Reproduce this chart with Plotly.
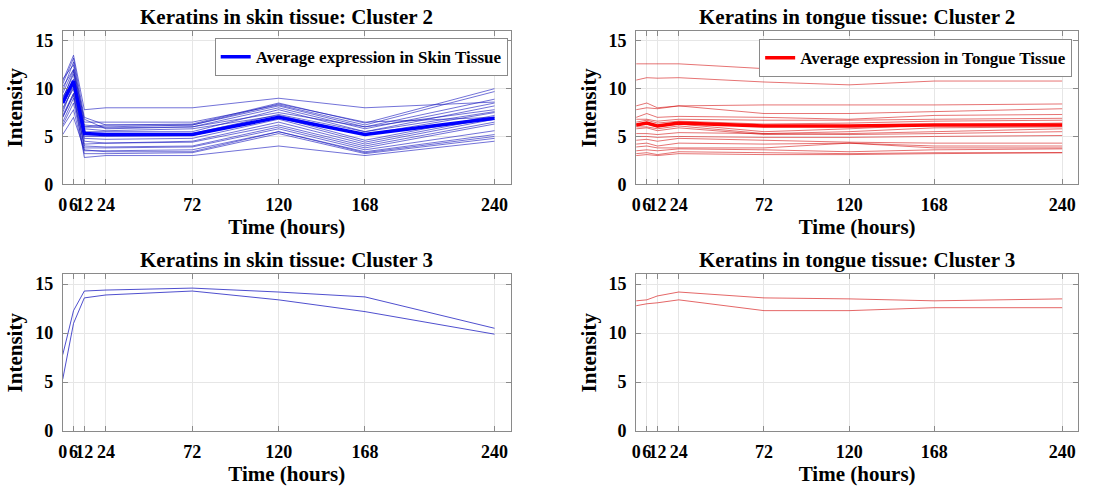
import plotly.graph_objects as go

time_h = [0, 6, 12, 24, 72, 120, 168, 240]
tick_vals = [0, 6, 12, 24, 72, 120, 168, 240]
tick_text = ["0", "6", "12", "24", "72", "120", "168", "240"]
y_ticks = [0, 5, 10, 15]

skin_c2 = [
    [10.8, 13.5, 7.8, 8.0, 8.0, 9.0, 8.0, 8.6],
    [10.5, 13.2, 7.0, 6.2, 6.3, 8.5, 6.4, 10.0],
    [9.8, 12.8, 6.5, 6.5, 6.5, 8.3, 6.2, 9.7],
    [11.0, 12.5, 6.0, 6.2, 6.2, 8.2, 6.0, 8.9],
    [9.5, 12.0, 6.8, 5.8, 6.0, 8.0, 5.8, 8.5],
    [9.0, 11.5, 5.5, 5.5, 5.5, 7.8, 5.5, 8.2],
    [8.5, 11.0, 6.0, 5.9, 6.0, 7.5, 6.0, 7.8],
    [10.2, 12.0, 5.2, 5.2, 5.3, 7.3, 5.5, 7.6],
    [7.5, 10.5, 5.8, 5.6, 5.8, 7.2, 5.2, 7.5],
    [8.0, 10.0, 5.0, 5.0, 5.1, 7.0, 4.6, 7.2],
    [7.2, 9.5, 4.8, 4.7, 4.8, 6.8, 4.4, 7.0],
    [9.2, 10.8, 4.5, 4.3, 4.5, 6.5, 4.2, 6.8],
    [7.0, 9.3, 4.2, 4.3, 4.4, 6.2, 4.0, 6.5],
    [6.5, 9.0, 4.0, 3.9, 4.0, 6.0, 3.8, 6.3],
    [7.8, 10.2, 3.8, 3.8, 3.9, 5.8, 3.6, 5.6],
    [6.2, 8.5, 3.5, 3.5, 3.6, 5.5, 3.4, 5.2],
    [5.2, 7.0, 3.6, 3.4, 3.4, 5.5, 3.3, 5.0],
    [6.0, 7.8, 3.2, 3.2, 3.3, 5.3, 3.2, 4.8],
    [7.0, 9.5, 2.8, 3.0, 3.0, 4.0, 3.0, 4.5],
    [8.8, 11.8, 6.2, 6.0, 6.2, 8.4, 6.5, 7.0],
]
skin_c2_avg = [8.5, 10.8, 5.3, 5.2, 5.2, 7.0, 5.2, 6.9]

tongue_c2 = [
    [12.6, 12.6, 12.6, 12.6, 12.1, 11.8, 12.9, 12.7],
    [10.9, 11.15, 11.1, 11.15, 10.7, 10.4, 10.8, 10.8],
    [8.2, 8.5, 8.0, 8.2, 8.3, 8.3, 8.3, 8.4],
    [7.8, 8.0, 7.9, 8.2, 7.4, 7.4, 7.6, 7.9],
    [7.0, 7.4, 7.0, 7.1, 7.0, 6.8, 7.2, 7.3],
    [6.8, 6.8, 6.6, 6.8, 6.7, 6.7, 6.8, 6.9],
    [6.5, 6.7, 6.4, 6.6, 6.3, 6.4, 6.6, 6.7],
    [6.2, 6.3, 6.0, 6.3, 5.5, 5.8, 6.2, 6.4],
    [6.0, 6.0, 5.8, 6.1, 5.3, 5.5, 5.9, 6.0],
    [5.8, 5.9, 5.6, 5.9, 5.2, 5.3, 5.5, 5.8],
    [5.3, 5.3, 5.2, 5.4, 5.3, 5.2, 5.3, 5.5],
    [5.0, 5.0, 4.9, 5.0, 4.9, 4.9, 5.0, 5.1],
    [4.6, 4.7, 4.5, 4.8, 4.6, 4.4, 4.3, 4.3],
    [4.2, 4.3, 4.0, 4.3, 4.2, 4.3, 4.0, 4.0],
    [3.9, 4.0, 3.8, 3.8, 3.8, 4.3, 3.8, 3.8],
    [3.5, 3.6, 3.5, 3.7, 3.6, 3.4, 3.6, 3.7],
    [3.2, 3.3, 3.1, 3.4, 3.3, 3.2, 3.3, 3.3],
    [3.0, 3.1, 3.0, 3.2, 3.1, 3.1, 3.2, 3.3],
]
tongue_c2_avg = [6.2, 6.4, 6.1, 6.4, 6.1, 6.1, 6.2, 6.2]

skin_c3 = [
    [7.8, 12.3, 14.3, 14.4, 14.6, 14.2, 13.7, 10.5],
    [5.3, 11.0, 13.6, 13.9, 14.3, 13.4, 12.2, 9.9],
]
tongue_c3 = [
    [13.3, 13.4, 13.8, 14.2, 13.6, 13.5, 13.3, 13.5],
    [12.8, 13.0, 13.1, 13.4, 12.3, 12.3, 12.6, 12.6],
]

titles = [
    "Keratins in skin tissue: Cluster 2",
    "Keratins in tongue tissue: Cluster 2",
    "Keratins in skin tissue: Cluster 3",
    "Keratins in tongue tissue: Cluster 3",
]

FONT = "Liberation Serif"
W, H = 1106, 498
thin_blue = "rgba(20,20,190,0.6)"
thin_red = "rgba(210,0,0,0.55)"

fig = go.Figure()

def add_lines(rows, color, xa, ya):
    for r in rows:
        fig.add_trace(go.Scatter(x=time_h, y=r, mode="lines", xaxis=xa, yaxis=ya,
                                 line=dict(color=color, width=1), showlegend=False,
                                 hoverinfo="skip"))

add_lines(skin_c2, thin_blue, "x", "y")
fig.add_trace(go.Scatter(x=time_h, y=skin_c2_avg, mode="lines", xaxis="x", yaxis="y",
                         line=dict(color="rgb(0,0,255)", width=3.5),
                         name="Average expression in Skin Tissue", legend="legend"))
add_lines(tongue_c2, thin_red, "x2", "y2")
fig.add_trace(go.Scatter(x=time_h, y=tongue_c2_avg, mode="lines", xaxis="x2", yaxis="y2",
                         line=dict(color="rgb(255,0,0)", width=3.5),
                         name="Average expression in Tongue Tissue", legend="legend2"))
add_lines(skin_c3, "rgba(20,20,190,0.75)", "x3", "y3")
add_lines(tongue_c3, "rgba(210,0,0,0.6)", "x4", "y4")

def px_x(p):
    return p / W

def px_y(p):
    return 1 - p / H

left_dom = [px_x(58), px_x(508)]
right_dom = [px_x(634), px_x(1078)]
top_dom = [px_y(188), px_y(32)]
bot_dom = [px_y(440), px_y(280)]

axis_common = dict(showline=True, linecolor="#8a8a8a", linewidth=1, mirror="ticks",
                   ticks="inside", ticklen=5, tickcolor="#8a8a8a", tickangle=0,
                   showgrid=True, gridcolor="#e6e6e6", gridwidth=1, zeroline=False,
                   tickfont=dict(family=FONT, size=18, color="black", weight="bold"))

def xax(dom, anchor):
    return dict(domain=dom, anchor=anchor, range=[0, 249], tickmode="array",
                tickvals=tick_vals, ticktext=tick_text, ticklabelstandoff=4,
                title=dict(text="Time (hours)", standoff=3,
                           font=dict(family=FONT, size=21, color="black", weight="bold")),
                **axis_common)

def yax(dom, anchor):
    return dict(domain=dom, anchor=anchor, range=[0, 16], tickmode="array",
                tickvals=y_ticks, ticklabelstandoff=5,
                title=dict(text="Intensity", standoff=6,
                           font=dict(family=FONT, size=21, color="black", weight="bold")),
                **axis_common)

annotations = []
centers = [((58 + 508) / 2, 17), ((634 + 1078) / 2, 17), ((58 + 508) / 2, 265), ((634 + 1078) / 2, 265)]
for t, (cx, cy) in zip(titles, centers):
    annotations.append(dict(text=t, x=px_x(cx), y=px_y(cy), xref="paper", yref="paper",
                            xanchor="center", yanchor="middle", showarrow=False,
                            font=dict(family=FONT, size=21, color="black", weight="bold")))

legend_common = dict(bgcolor="white", bordercolor="#8a8a8a", borderwidth=1,
                     font=dict(family=FONT, size=17, color="black", weight="bold"),
                     xanchor="right", yanchor="top", itemwidth=30,
                     tracegroupgap=0)

fig.update_layout(
    width=W, height=H,
    margin=dict(l=0, r=0, t=0, b=0),
    paper_bgcolor="white", plot_bgcolor="white",
    xaxis=xax(left_dom, "y"), yaxis=yax(top_dom, "x"),
    xaxis2=xax(right_dom, "y2"), yaxis2=yax(top_dom, "x2"),
    xaxis3=xax(left_dom, "y3"), yaxis3=yax(bot_dom, "x3"),
    xaxis4=xax(right_dom, "y4"), yaxis4=yax(bot_dom, "x4"),
    legend=dict(x=px_x(505), y=px_y(39), **legend_common),
    legend2=dict(x=px_x(1072), y=px_y(40), **legend_common),
    annotations=annotations,
)

fig.write_html("out.html")
